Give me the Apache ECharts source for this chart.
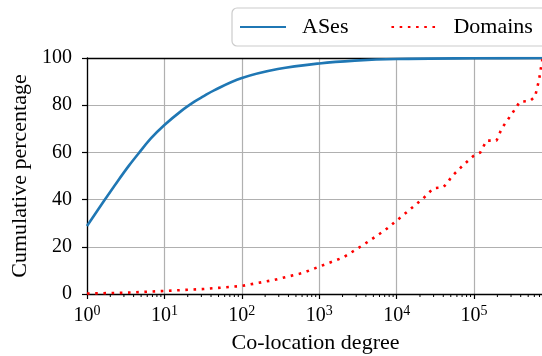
<!DOCTYPE html>
<html>
<head>
<meta charset="utf-8">
<script src="https://cdn.jsdelivr.net/npm/echarts@6/dist/echarts.min.js"></script>
<style>
  html, body { margin: 0; padding: 0; background: #fff; }
  #chart { width: 542px; height: 356px; }
</style>
</head>
<body>
<div id="chart"></div>
<script>
// CDF of co-location degree: share of ASes / domains with degree <= x
const asesDegree = [1, 1.67, 2.49, 3.5, 4.75, 6.73, 10, 16.4, 24.4, 31.3, 44.4, 98, 292, 1000, 2870, 10000, 100000, 800000];
const asesPct    = [28.8, 39.6, 47.8, 54.5, 60.0, 66.0, 71.6, 77.5, 81.5, 83.6, 86.4, 91.4, 95.3, 97.7, 98.9, 99.6, 99.9, 100];

const domainDegree = [1, 3, 10, 32, 100, 257, 624, 1000, 2050, 3700, 7100, 10000, 16400, 22000, 29800, 40000, 46500, 51000, 72800, 98000, 120000, 145000, 195000, 228000, 322000, 390000, 527000, 613000, 690000, 740000, 770000];
const domainPct    = [0.2, 0.5, 1.3, 2.1, 3.4, 5.9, 9.0, 11.6, 15.5, 20.8, 27.1, 31.1, 37.0, 40.5, 44.8, 45.2, 47.6, 49.7, 54.7, 58.5, 59.9, 65.0, 65.0, 70.2, 77.3, 81.5, 81.8, 83.6, 90.7, 97.0, 100];

const yTicks = [0, 20, 40, 60, 80, 100];
const xMin = 1, xMax = 8e5;

const FONT = 'Liberation Serif';

// minor tick positions (2..9 x 10^k) for the log axis
const minorTicks = [];
for (let k = 0; k <= 5; k++) {
  for (let m = 2; m <= 9; m++) {
    const v = m * Math.pow(10, k);
    if (v < xMax) minorTicks.push([v, 0]);
  }
}

const zip = (a, b) => a.map((v, i) => [v, b[i]]);

const chart = echarts.init(document.getElementById('chart'), null, { renderer: 'canvas' });

const isDecade = v => {
  const l = Math.log10(v);
  return Math.abs(l - Math.round(l)) < 1e-6 ? Math.round(l) : null;
};

chart.setOption({
  animation: false,
  textStyle: { fontFamily: FONT },
  grid: { left: 87, right: -2, top: 58, bottom: 62, containLabel: false, outerBoundsMode: 'none' },
  legend: {
    data: ['ASes', 'Domains'],
    orient: 'horizontal',
    left: 232, top: 8, width: 400,
    padding: [8, 14, 8, 7],
    itemWidth: 46, itemHeight: 14, itemGap: 42,
    borderColor: '#cccccc', borderWidth: 1.2, borderRadius: 5,
    backgroundColor: '#ffffff',
    itemStyle: { opacity: 0 },
    formatter: name => '{t|' + name + '}',
    textStyle: {
      fontFamily: FONT, fontSize: 22, color: '#000',
      rich: { t: { fontFamily: FONT, fontSize: 22, color: '#000', lineHeight: 22, padding: [0, 0, 0, 11] } }
    }
  },
  xAxis: [{
    type: 'log', logBase: 10, min: xMin, max: xMax,
    name: 'Co-location degree', nameLocation: 'middle', nameGap: 38,
    nameTextStyle: { fontFamily: FONT, fontSize: 22, color: '#000' },
    axisLine: { lineStyle: { color: '#000', width: 1.3 } },
    axisTick: { show: true, length: 5, inside: false, lineStyle: { color: '#000', width: 1.2 } },
    splitLine: { show: true, lineStyle: { color: '#b0b0b0', width: 1.2 } },
    axisLabel: {
      margin: 10,
      formatter: v => {
        const p = isDecade(v);
        return p === null ? '' : '{b|10}{s|' + p + '}';
      },
      rich: {
        b: { fontFamily: FONT, fontSize: 20, color: '#000', lineHeight: 22, verticalAlign: 'bottom' },
        s: { fontFamily: FONT, fontSize: 14, color: '#000', lineHeight: 22, verticalAlign: 'top', padding: [0, 0, 8, 0] }
      }
    }
  }, {
    type: 'log', logBase: 10, min: xMin, max: xMax, position: 'top',
    axisLine: { show: true, lineStyle: { color: '#000', width: 1.3 } },
    axisTick: { show: false }, axisLabel: { show: false }, splitLine: { show: false }
  }],
  yAxis: {
    type: 'value', min: 0, max: 100, interval: 20,
    name: 'Cumulative percentage', nameLocation: 'middle', nameGap: 54, nameRotate: 90,
    nameTextStyle: { fontFamily: FONT, fontSize: 22, color: '#000' },
    axisLine: { show: true, lineStyle: { color: '#000', width: 1.3 } },
    axisTick: { show: true, length: 5, lineStyle: { color: '#000', width: 1.2 } },
    splitLine: { show: true, lineStyle: { color: '#b0b0b0', width: 1.2 } },
    axisLabel: {
      fontFamily: FONT, fontSize: 20, color: '#000', margin: 15,
      formatter: v => (yTicks.includes(v) ? String(v) : '')
    }
  },
  series: [{
    name: 'ASes', type: 'line', data: zip(asesDegree, asesPct),
    smooth: 0.35, symbol: 'none', showSymbol: false, z: 3,
    lineStyle: { color: '#1f77b4', width: 2.6 },
    itemStyle: { color: '#1f77b4' }
  }, {
    name: 'Domains', type: 'line', data: zip(domainDegree, domainPct),
    symbol: 'none', showSymbol: false, z: 4,
    lineStyle: { color: '#ff0000', width: 2.6, type: [2.6, 5.6] },
    itemStyle: { color: '#ff0000' }
  }, {
    name: 'minor', type: 'custom', data: minorTicks, silent: true, clip: false, z: 5,
    renderItem: (params, api) => {
      const p = api.coord([api.value(0), 0]);
      return {
        type: 'line',
        shape: { x1: p[0], y1: p[1], x2: p[0], y2: p[1] + 3 },
        style: { stroke: '#000', lineWidth: 1 }
      };
    }
  }]
});
</script>
</body>
</html>
